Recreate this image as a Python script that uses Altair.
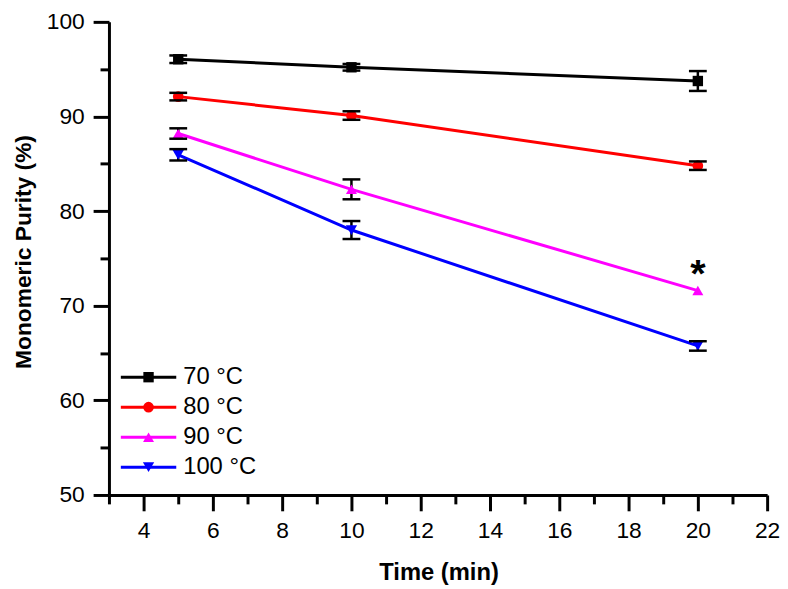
import altair as alt
import pandas as pd

# ---- data ----
times = [5, 10, 20]
series = ["70 °C", "80 °C", "90 °C", "100 °C"]
purity_70 = [96.05, 95.2, 93.75]
purity_80 = [92.1, 90.1, 84.8]
purity_90 = [88.2, 82.3, 71.6]
purity_100 = [85.95, 78.0, 65.75]
err_70 = [0.4, 0.35, 1.05]
err_80 = [0.4, 0.45, 0.45]
err_90 = [0.55, 1.05, 0.0]
err_100 = [0.6, 0.95, 0.5]
star_time = [20]
star_value = [73.8]
star_label = ["*"]

x_major = [4, 6, 8, 10, 12, 14, 16, 18, 20, 22]
x_minor = [3, 5, 7, 9, 11, 13, 15, 17, 19, 21]
y_major = [50, 60, 70, 80, 90, 100]
y_minor = [55, 65, 75, 85, 95]

colors = ["#000000", "#FF0000", "#FF00FF", "#0000FF"]
shapes = ["square", "circle", "triangle-up", "triangle-down"]
sizes = [110, 130, 230, 210]

FONT = "Liberation Sans"

rows = []
for name, vals, errs in zip(series, [purity_70, purity_80, purity_90, purity_100],
                            [err_70, err_80, err_90, err_100]):
    for t, v, e in zip(times, vals, errs):
        rows.append({"series": name, "time": t, "purity": v, "lo": v - e, "hi": v + e})
df = pd.DataFrame(rows)
star_df = pd.DataFrame({"time": star_time, "purity": star_value, "label": star_label})
leg_df = pd.DataFrame({"series": series, "idx": list(range(len(series)))})

xs = alt.Scale(domain=[3, 22], nice=False, zero=False)
ys = alt.Scale(domain=[50, 100], nice=False, zero=False)
cs = alt.Scale(domain=series, range=colors)
ss = alt.Scale(domain=series, range=shapes)
zs = alt.Scale(domain=series, range=sizes)

x_major_axis = alt.Axis(orient="bottom", values=x_major, ticks=True, tickSize=16, tickWidth=3,
                        tickColor="black", domainColor="black", domainWidth=3,
                        labelFontSize=23, labelFont=FONT, labelColor="black", labelPadding=9,
                        labelFlush=False, labelOverlap=False, grid=False,
                        title="Time (min)", titleFontSize=24, titleFont=FONT,
                        titleFontWeight="bold", titleColor="black", titleX=333, titleY=78,
                        titleBaseline="middle", titleAlign="center")
x_minor_axis = alt.Axis(orient="bottom", values=x_minor, ticks=True, tickSize=9, tickWidth=3,
                        tickColor="black", domain=False, labels=False, title=None, grid=False)
y_major_axis = alt.Axis(orient="left", values=y_major, ticks=True, tickSize=16, tickWidth=3,
                        tickColor="black", domainColor="black", domainWidth=3,
                        labelFontSize=23, labelFont=FONT, labelColor="black", labelPadding=9,
                        labelFlush=False, labelOverlap=False, grid=False,
                        title="Monomeric Purity (%)", titleFontSize=23, titleFont=FONT,
                        titleFontWeight="bold", titleColor="black", titleX=-86, titleY=232,
                        titleAngle=-90, titleBaseline="middle", titleAlign="center")
y_minor_axis = alt.Axis(orient="left", values=y_minor, ticks=True, tickSize=9, tickWidth=3,
                        tickColor="black", domain=False, labels=False, title=None, grid=False)

base = alt.Chart(df)

lines = base.mark_line(strokeWidth=3).encode(
    x=alt.X("time:Q", scale=xs, axis=x_major_axis),
    y=alt.Y("purity:Q", scale=ys, axis=y_major_axis),
    color=alt.Color("series:N", scale=cs, legend=None),
    order="time:Q",
)

err_base = base.transform_filter("datum.hi > datum.lo")

err_rule = err_base.mark_rule(strokeWidth=2.5, color="black").encode(
    x=alt.X("time:Q", scale=xs, axis=x_minor_axis),
    y=alt.Y("lo:Q", scale=ys, axis=y_minor_axis),
    y2="hi:Q",
)

points = base.mark_point(filled=True, opacity=1).encode(
    x=alt.X("time:Q", scale=xs, axis=None),
    y=alt.Y("purity:Q", scale=ys, axis=None),
    color=alt.Color("series:N", scale=cs, legend=None),
    shape=alt.Shape("series:N", scale=ss, legend=None),
    size=alt.Size("series:N", scale=zs, legend=None),
)

cap_lo = err_base.mark_tick(orient="horizontal", size=18, thickness=2.5, color="black",
                            opacity=1).encode(
    x=alt.X("time:Q", scale=xs, axis=None),
    y=alt.Y("lo:Q", scale=ys, axis=None),
)
cap_hi = err_base.mark_tick(orient="horizontal", size=18, thickness=2.5, color="black",
                            opacity=1).encode(
    x=alt.X("time:Q", scale=xs, axis=None),
    y=alt.Y("hi:Q", scale=ys, axis=None),
)

star = alt.Chart(star_df).mark_text(font=FONT, fontSize=40, fontWeight="bold",
                                    baseline="alphabetic", dy=17, color="black").encode(
    x=alt.X("time:Q", scale=xs, axis=None),
    y=alt.Y("purity:Q", scale=ys, axis=None),
    text="label:N",
)

# legend drawn as marks (layout only)
leg = alt.Chart(leg_df).transform_calculate(ly="359 + 30.3 * datum.idx")
leg_y = alt.Y("ly:Q", scale=None, axis=None)
leg_lines = leg.mark_rule(strokeWidth=3).encode(
    x=alt.value(12), x2=alt.value(68), y=leg_y,
    color=alt.Color("series:N", scale=cs, legend=None),
)
leg_pts = leg.mark_point(filled=True, opacity=1).encode(
    x=alt.value(40), y=leg_y,
    color=alt.Color("series:N", scale=cs, legend=None),
    shape=alt.Shape("series:N", scale=ss, legend=None),
    size=alt.Size("series:N", scale=zs, legend=None),
)
leg_text = leg.mark_text(align="left", baseline="middle", font=FONT, fontSize=24,
                         color="black").encode(
    x=alt.value(75), y=leg_y, text="series:N",
)

chart = alt.layer(
    lines, err_rule, points, cap_lo, cap_hi, star, leg_lines, leg_pts, leg_text
).resolve_axis(x="independent", y="independent").properties(
    width=665, height=478,
    autosize=alt.AutoSizeParams(type="none"),
    padding={"left": 102, "top": 11, "right": 13, "bottom": 92},
    background="white",
).configure_view(stroke=None)

chart.save("out.html", embed_options={"renderer": "svg", "actions": False})
